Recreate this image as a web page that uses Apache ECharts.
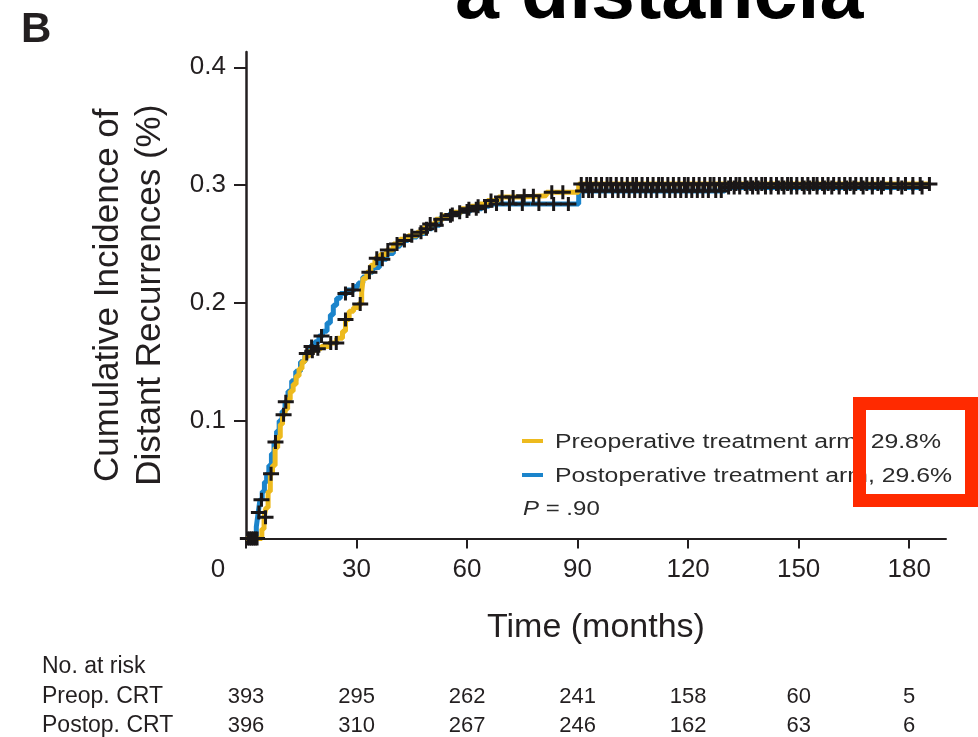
<!DOCTYPE html>
<html><head><meta charset="utf-8">
<script src="https://cdn.jsdelivr.net/npm/echarts@6/dist/echarts.min.js"></script>
<style>html,body{margin:0;padding:0;background:#fff}#c{width:978px;height:737px}</style>
</head><body><div id="c"></div>
<script>
// ---- data ----
const preopTime = [0, 4.3, 4.9, 5.4, 6.0, 6.6, 7.2, 7.9, 8.6, 9.3, 9.9, 10.6, 11.3, 12.0, 12.8, 13.6, 14.4, 15.2, 16.0, 17.2, 18.6, 20.4, 22.6, 24.6, 26.2, 27.0, 28.0, 29.2, 30.5, 31.4, 31.8, 32.8, 33.9, 35.0, 36.4, 38.2, 40.0, 41.8, 44.0, 46.4, 48.3, 49.9, 51.5, 53.5, 56.0, 58.5, 61.0, 63.5, 65.5, 68.5, 74.5, 81.5, 90.3, 185.5];
const preopCI   = [0, 0.008, 0.018, 0.026, 0.040, 0.055, 0.062, 0.077, 0.086, 0.097, 0.105, 0.110, 0.118, 0.125, 0.131, 0.138, 0.144, 0.150, 0.155, 0.159, 0.161, 0.163, 0.166, 0.170, 0.176, 0.186, 0.193, 0.196, 0.199, 0.209, 0.221, 0.226, 0.232, 0.238, 0.241, 0.245, 0.250, 0.254, 0.257, 0.260, 0.264, 0.267, 0.271, 0.274, 0.277, 0.280, 0.282, 0.284, 0.287, 0.290, 0.291, 0.294, 0.301, 0.301];
const postopTime = [0, 2.8, 3.3, 3.8, 4.4, 5.0, 5.6, 6.2, 6.9, 7.6, 8.3, 9.0, 9.8, 10.6, 11.4, 12.4, 13.5, 14.8, 16.0, 17.3, 18.7, 19.8, 20.8, 22.0, 22.9, 23.7, 24.6, 25.6, 27.5, 29.5, 30.5, 31.7, 33.0, 34.4, 36.2, 38.2, 40.0, 41.8, 44.0, 46.4, 48.5, 50.5, 52.6, 55.0, 58.0, 61.0, 64.0, 66.0, 90.3, 130.0, 183.5];
const postopCI   = [0, 0.010, 0.022, 0.033, 0.040, 0.048, 0.055, 0.062, 0.072, 0.082, 0.091, 0.100, 0.108, 0.116, 0.125, 0.134, 0.142, 0.150, 0.157, 0.163, 0.167, 0.172, 0.176, 0.183, 0.190, 0.198, 0.204, 0.208, 0.211, 0.214, 0.217, 0.222, 0.226, 0.230, 0.237, 0.242, 0.248, 0.253, 0.256, 0.259, 0.263, 0.266, 0.272, 0.275, 0.278, 0.280, 0.282, 0.284, 0.295, 0.298, 0.298];
const preopCensor = [1, 2, 3, 5.3, 6.8, 10.2, 18.0, 19.5, 23.0, 24.5, 27.0, 31.0, 35.5, 38.5, 41.0, 45.0, 47.5, 50.0, 53.0, 55.5, 58.0, 60.5, 63.0, 66.5, 69.5, 72.5, 75.5, 78.0, 83.0, 86.0,
  91, 92.5, 93.5, 95, 96.5, 98, 99, 100.5, 102, 103.5, 105, 106, 107.5, 109, 110.5, 112, 113, 114.5, 116, 117.5, 119, 120, 121.5, 123, 124.5, 126, 127, 128.5, 130, 131.5, 133, 134, 135.5, 137, 138.5, 140, 141, 142.5, 144, 145.5, 147, 148, 149.5, 151, 152.5, 154, 155, 156.5, 158, 159.5, 161, 162.5, 164, 165.5, 167, 168.5, 170, 171.5, 173, 175, 177, 179, 181, 183, 185.5];
const postopCensor = [0.5, 1.5, 2.5, 3.5, 4.2, 8.0, 10.8, 16.5, 17.8, 20.5, 27.0, 29.0, 33.5, 37.0, 43.0, 49.0, 51.5, 56.0, 60.0, 62.5, 65.0, 68.0, 71.5, 75.0, 79.5, 83.5, 87.5,
  91.5, 93, 94, 96, 97.5, 99.5, 101, 102.5, 104, 105.5, 107, 108.5, 110, 111.5, 113.5, 115, 116.5, 118, 119.5, 121, 122.5, 124, 125.5, 127.5, 129, 131, 132.5, 134, 136, 137.5, 139, 141, 142.5, 144.5, 146, 148, 149.5, 151.5, 153, 155, 157, 159, 161, 163, 165, 167.5, 170, 172.5, 175, 178, 181, 183.5];
const xTicks = [0, 30, 60, 90, 120, 150, 180];
const yTicks = [0.1, 0.2, 0.3, 0.4];
const riskLabels = ['Preop. CRT', 'Postop. CRT'];
const riskPreop = [393, 295, 262, 241, 158, 60, 5];
const riskPostop = [396, 310, 267, 246, 162, 63, 6];
const legendLabels = ['Preoperative treatment arm, 29.8%', 'Postoperative treatment arm, 29.6%'];
const pValue = '.90';

// ---- helpers ----
const FONT = "'Liberation Sans', Arial, sans-serif";
const INK = '#231F20';
const YEL = '#EDBA1E', BLU = '#1B84CB';
function stepVal(times, vals, t) { let v = vals[0]; for (let i = 0; i < times.length; i++) { if (times[i] <= t) v = vals[i]; else break; } return v; }
const pairs = (ts, vs) => ts.map((t, i) => [t, vs[i]]);
const censorPts = (cs, ts, vs) => cs.map(t => [t, stepVal(ts, vs, t)]);
const PLUS = 'path://M0,5.5H16V8.5H0Z M6.5,0H9.5V14H6.5Z';

const chart = echarts.init(document.getElementById('c'), null, { renderer: 'canvas' });
const option = {
  animation: false,
  backgroundColor: '#fff',
  grid: { left: 246, right: 32, top: 52, bottom: 198.5, containLabel: false, outerBoundsMode: 'none' },
  xAxis: {
    type: 'value', min: 0, max: 190, interval: 30,
    axisLine: { show: true, lineStyle: { color: INK, width: 2 } },
    axisTick: { show: true, length: 10, customValues: xTicks, lineStyle: { color: INK, width: 2 } },
    axisLabel: { customValues: xTicks, margin: 18, fontSize: 26, color: INK, fontFamily: FONT,
      formatter: v => v === 0 ? '{z|0}' : String(v),
      rich: { z: { padding: [0, 56, 0, 0], fontSize: 26, color: INK, fontFamily: FONT } } },
    splitLine: { show: false },
    name: 'Time (months)', nameLocation: 'middle', nameGap: 72,
    nameTextStyle: { fontSize: 34, color: INK, fontFamily: FONT }
  },
  yAxis: {
    type: 'value', min: 0, max: 0.413, interval: 0.1,
    axisLine: { show: true, lineStyle: { color: INK, width: 2.5 } },
    axisTick: { show: true, length: 12, customValues: yTicks, lineStyle: { color: INK, width: 2 } },
    axisLabel: { customValues: yTicks, margin: 20, fontSize: 26, color: INK, fontFamily: FONT, formatter: v => v.toFixed(1) },
    splitLine: { show: false },
    name: 'Cumulative Incidence of\nDistant Recurrences (%)', nameLocation: 'middle', nameGap: 75,
    nameTextStyle: { fontSize: 35, lineHeight: 42, color: INK, fontFamily: FONT }
  },
  series: [
    { name: 'Postop', type: 'line', step: 'end', showSymbol: false, data: pairs(postopTime, postopCI),
      lineStyle: { color: BLU, width: 5 }, z: 2 },
    { name: 'Preop', type: 'line', step: 'end', showSymbol: false, data: pairs(preopTime, preopCI),
      lineStyle: { color: YEL, width: 5 }, z: 3 },
    { type: 'scatter', symbol: PLUS, symbolSize: [16, 14], data: censorPts(postopCensor, postopTime, postopCI),
      itemStyle: { color: '#1a1718', opacity: 1 }, z: 4 },
    { type: 'scatter', symbol: PLUS, symbolSize: [16, 14], data: censorPts(preopCensor, preopTime, preopCI),
      itemStyle: { color: '#1a1718', opacity: 1 }, z: 4 }
  ]
};
chart.setOption(option);

// positions of the at-risk counts come from the x axis
const g = [];
g.push({ type: 'text', x: 455, y: -4, style: { text: 'a distancia', font: "bold 79px 'Liberation Sans', Arial", fill: '#000', align: 'left', verticalAlign: 'middle' } });
g.push({ type: 'text', x: 21, y: 30, style: { text: 'B', font: "bold 42px 'Liberation Sans', Arial", fill: INK, align: 'left', verticalAlign: 'middle' } });
// legend
const legY = [441, 475];
[YEL, BLU].forEach((c, i) => {
  g.push({ type: 'line', shape: { x1: 522, y1: legY[i], x2: 543, y2: legY[i] }, style: { stroke: c, lineWidth: 4 } });
  g.push({ type: 'text', x: 555, y: legY[i] + 1, scaleX: 1.24, style: { text: legendLabels[i], font: "20px 'Liberation Sans', Arial", fill: '#2b2b2b', align: 'left', verticalAlign: 'middle' } });
});
g.push({ type: 'text', x: 523, y: 509, scaleX: 1.2, style: { text: '{i|P}{n| = ' + pValue + '}', rich: { i: { font: "italic 20px 'Liberation Sans', Arial", fill: '#2b2b2b' }, n: { font: "20px 'Liberation Sans', Arial", fill: '#2b2b2b' } }, align: 'left', verticalAlign: 'middle' } });
// red highlight box
g.push({ type: 'rect', z: 100, shape: { x: 859.5, y: 403.5, width: 112, height: 97 }, style: { fill: 'none', stroke: '#FF2A00', lineWidth: 13 } });
// at-risk table
g.push({ type: 'text', x: 42, y: 667, style: { text: 'No. at risk', font: "23px 'Liberation Sans', Arial", fill: INK, align: 'left', verticalAlign: 'middle' } });
const rowY = [697, 726];
[riskPreop, riskPostop].forEach((row, r) => {
  g.push({ type: 'text', x: 42, y: rowY[r], style: { text: riskLabels[r], font: "23px 'Liberation Sans', Arial", fill: INK, align: 'left', verticalAlign: 'middle' } });
  row.forEach((n, i) => {
    const px = chart.convertToPixel({ xAxisIndex: 0 }, xTicks[i]);
    g.push({ type: 'text', x: px, y: rowY[r], style: { text: String(n), font: "22px 'Liberation Sans', Arial", fill: INK, align: 'center', verticalAlign: 'middle' } });
  });
});
chart.setOption({ graphic: { elements: g } });
</script>
</body></html>
